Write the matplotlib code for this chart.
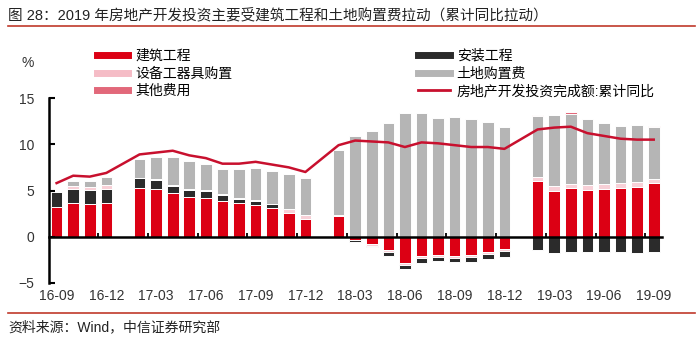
import numpy as np
import matplotlib.pyplot as plt
from matplotlib.lines import Line2D

plt.rcParams['font.family'] = ['Liberation Sans', 'Noto Sans CJK SC', 'DejaVu Sans']

months = ['16-09', '16-10', '16-11', '16-12', '17-01', '17-02', '17-03', '17-04',
          '17-05', '17-06', '17-07', '17-08', '17-09', '17-10', '17-11', '17-12',
          '18-01', '18-02', '18-03', '18-04', '18-05', '18-06', '18-07', '18-08',
          '18-09', '18-10', '18-11', '18-12', '19-01', '19-02', '19-03', '19-04',
          '19-05', '19-06', '19-07', '19-08', '19-09']
nan = np.nan
# 建筑工程
jz = [3.2, 3.6, 3.5, 3.6, nan, 5.3, 5.2, 4.7, 4.3, 4.2, 3.9, 3.6, 3.4, 3.1, 2.6, 1.9,
      nan, 2.2, -0.3, -0.8, -1.4, -2.8, -2.1, -2.0, -2.1, -2.0, -1.7, -1.3,
      nan, 6.0, 5.0, 5.3, 5.1, 5.2, 5.3, 5.4, 5.8]
# 安装工程
az = [1.6, 1.55, 1.6, 1.6, nan, 1.0, 0.9, 0.8, 0.8, 0.8, 0.6, 0.5, 0.5, 0.4, 0.0, 0.0,
      nan, 0.0, -0.15, -0.2, -0.4, -0.5, -0.5, -0.45, -0.5, -0.5, -0.55, -0.7,
      nan, -1.45, -1.8, -1.7, -1.6, -1.7, -1.7, -1.8, -1.7]
# 设备工器具购置
sb = [0.2, 0.35, 0.3, 0.35, nan, 0.1, 0.15, 0.1, 0.1, 0.1, 0.1, 0.05, 0.05, 0.05, 0.45, 0.4,
      nan, 0.1, -0.1, -0.15, -0.25, -0.2, -0.25, -0.15, -0.15, -0.2, -0.2, -0.2,
      nan, 0.45, 0.45, 0.35, 0.45, 0.55, 0.55, 0.55, 0.45]
# 土地购置费
td = [0.0, 0.5, 0.6, 0.9, nan, 2.0, 2.4, 3.0, 3.0, 2.8, 2.75, 3.15, 3.5, 3.6, 3.75, 4.0,
      nan, 7.1, 10.9, 11.4, 12.25, 13.4, 13.35, 12.8, 13.0, 12.7, 12.4, 11.85,
      nan, 6.65, 7.7, 7.65, 7.2, 6.6, 6.15, 6.1, 5.6]
# 其他费用
qt = [0.0, 0.0, 0.0, 0.0, nan, 0.0, 0.0, 0.0, 0.0, 0.0, 0.0, 0.0, 0.0, 0.0, 0.0, 0.0,
      nan, 0.0, 0.0, 0.0, 0.0, 0.0, 0.0, 0.0, 0.0, 0.0, 0.0, 0.0,
      nan, 0.05, 0.05, 0.15, 0.0, 0.0, 0.0, 0.0, 0.15]
# 房地产开发投资完成额:累计同比
total = [5.8, 6.6, 6.5, 6.9, nan, 8.9, 9.1, 9.3, 8.8, 8.5, 7.9, 7.9, 8.1, 7.8, 7.5, 7.0,
         nan, 9.9, 10.4, 10.3, 10.2, 9.7, 10.2, 10.1, 9.9, 9.7, 9.7, 9.5,
         nan, 11.6, 11.8, 11.9, 11.2, 10.9, 10.6, 10.5, 10.5]

c_jz, c_az, c_sb, c_td, c_qt = '#DC0014', '#2B2B2B', '#F8D0D7', '#B5B5B5', '#E2687A'
c_line = '#C8102E'

fig = plt.figure(figsize=(7, 3.4), dpi=100)
ax = fig.add_axes([49.3 / 700, 57 / 340, (662 - 49.3) / 700, (283 - 98) / 340])
x = np.arange(len(months))
w = 0.7

pos_order = [(jz, c_jz), (az, c_az), (sb, c_sb), (td, c_td), (qt, c_qt)]
neg_order = [(jz, c_jz), (sb, c_sb), (az, c_az), (td, c_td), (qt, c_qt)]

bottom = np.zeros(len(x))
for vals, col in pos_order:
    v = np.nan_to_num(np.array(vals))
    m = v > 0
    ax.bar(x[m], v[m], w, bottom=bottom[m], color=col, edgecolor='white', linewidth=0.7)
    bottom[m] += v[m]

bottom = np.zeros(len(x))
for vals, col in neg_order:
    v = np.nan_to_num(np.array(vals))
    m = v < 0
    ax.bar(x[m], v[m], w, bottom=bottom[m], color=col, edgecolor='white', linewidth=0.7)
    bottom[m] += v[m]

tot = np.array(total)
ok = ~np.isnan(tot)
ax.plot(x[ok], tot[ok], color=c_line, lw=1.8, zorder=3)

ax.set_xlim(-0.44, 36.5)
ax.set_ylim(-5, 15)
for s in ['top', 'right']:
    ax.spines[s].set_visible(False)
ax.spines['left'].set_linewidth(1.8)
ax.spines['bottom'].set_linewidth(1.8)
ax.spines['bottom'].set_position(('data', 0))
ax.spines['bottom'].set_zorder(4)

ax.set_yticks([-5, 0, 5, 10, 15])
ax.tick_params(axis='y', direction='in', length=4, width=1.5, labelsize=10,
               labelcolor='#333333', pad=11)
ax.set_xticks([])
ax.set_xticks(np.arange(2.5, 36, 3), minor=True)
ax.tick_params(axis='x', which='minor', direction='in', length=3, width=1.3)

sec = ax.secondary_xaxis('bottom')
sec.set_xticks(x[::3], labels=months[::3])
sec.tick_params(length=0, labelsize=10, labelcolor='#333333', pad=4)
sec.spines['bottom'].set_visible(False)

fig.text(28 / 700, 1 - 63 / 340, '%', fontsize=10, color='#333333', ha='center', va='center')

handles = [Line2D([], [], color=c_jz, lw=5), Line2D([], [], color='#F5BCC6', lw=5),
           Line2D([], [], color=c_qt, lw=5), Line2D([], [], color=c_az, lw=5),
           Line2D([], [], color=c_td, lw=5), Line2D([], [], color=c_line, lw=2)]
labels = ['建筑工程', '设备工器具购置', '其他费用', '安装工程', '土地购置费', '房地产开发投资完成额:累计同比']
fig.legend(handles, labels, ncol=2, loc='upper left', bbox_to_anchor=(97 / 700, 1 - 49 / 340),
           frameon=False, fontsize=10, handlelength=2.25, handletextpad=0.5,
           columnspacing=13.4, labelspacing=0.25, borderpad=0, borderaxespad=0)

fig.text(8 / 700, 1 - 15 / 340,
         '图 28：2019 年房地产开发投资主要受建筑工程和土地购置费拉动（累计同比拉动）',
         fontsize=10.5, color='#222222', ha='left', va='center')
fig.add_artist(Line2D([8 / 700, 695 / 700], [1 - 25.5 / 340] * 2, color='#C0392B', lw=1.2,
                      transform=fig.transFigure))
fig.add_artist(Line2D([8 / 700, 695 / 700], [1 - 313 / 340] * 2, color='#C0392B', lw=1.2,
                      transform=fig.transFigure))
fig.text(8 / 700, 1 - 327 / 340, '资料来源：Wind，中信证券研究部', fontsize=10,
         color='#222222', ha='left', va='center')

fig.savefig('out.png', dpi=100)
